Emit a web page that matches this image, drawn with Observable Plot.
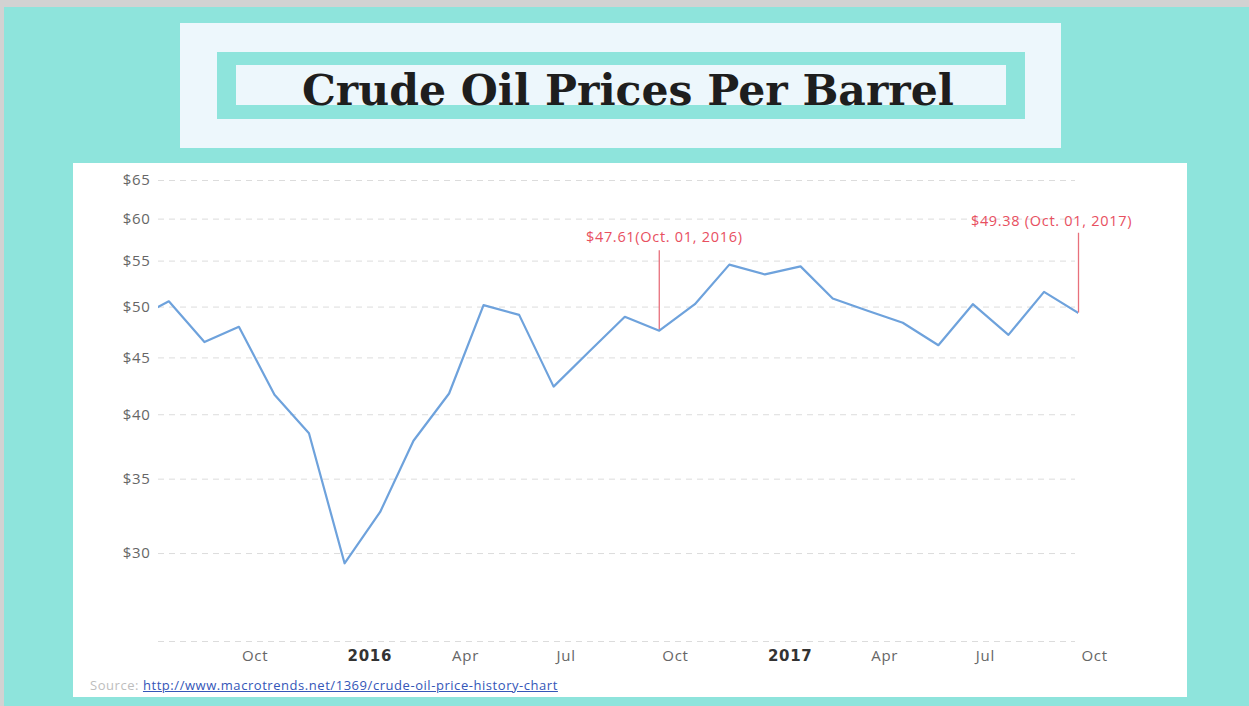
<!DOCTYPE html>
<html>
<head>
<meta charset="utf-8">
<script src="https://cdn.jsdelivr.net/npm/d3@7"></script>
<script src="https://cdn.jsdelivr.net/npm/@observablehq/plot@0.6"></script>
<style>
  html, body { margin: 0; padding: 0; }
  body { width: 1249px; height: 706px; position: relative; overflow: hidden; background: #d2d2d2; font-family: "Open Sans", sans-serif; }
  #bg { position: absolute; left: 4px; top: 7px; right: 0; bottom: 0; background: #8ee4dc; }
  .box { position: absolute; }
  #outer { left: 180px; top: 23px; width: 881px; height: 125px; background: #edf7fc; }
  #band { left: 217px; top: 52px; width: 808px; height: 67px; background: #8ee4dc; }
  #inner { left: 236px; top: 65px; width: 770px; height: 40px; background: #edf7fc; }
  #titlesvg { position: absolute; left: 0; top: 0; }
  #panel { left: 73px; top: 163px; width: 1114px; height: 534px; background: #ffffff; }
  #chart { position: absolute; left: 73px; top: 163px; }
  .oil text { letter-spacing: 0.7px; }
  #source { position: absolute; left: 90px; top: 676px; font-size: 13px; letter-spacing: 0.55px; font-family: "Open Sans", sans-serif; color: #bdbdbd; white-space: nowrap; }
  #source a { color: #3456b8; text-decoration: underline; }
</style>
</head>
<body>
<div id="bg"></div>
<div class="box" id="outer"></div>
<div class="box" id="band"></div>
<div class="box" id="inner"></div>
<svg id="titlesvg" width="1249" height="150">
  <text x="302" y="105" textLength="652" lengthAdjust="spacingAndGlyphs"
        font-family="DejaVu Serif" font-weight="bold" font-size="42" fill="#1e1e1e">Crude Oil Prices Per Barrel</text>
</svg>
<div class="box" id="panel"></div>
<div id="chart"></div>
<div id="source">Source: <a href="#">http://www.macrotrends.net/1369/crude-oil-price-history-chart</a></div>
<script>
// ---- data ----
const months = [
  "2015-07-01","2015-08-01","2015-09-01","2015-10-01","2015-11-01","2015-12-01",
  "2016-01-01","2016-02-01","2016-03-01","2016-04-01","2016-05-01","2016-06-01",
  "2016-07-01","2016-08-01","2016-09-01","2016-10-01","2016-11-01","2016-12-01",
  "2017-01-01","2017-02-01","2017-03-01","2017-04-01","2017-05-01","2017-06-01",
  "2017-07-01","2017-08-01","2017-09-01","2017-10-01"
];
const prices = [
  48.7, 50.6, 46.5, 48.0, 41.7, 38.5,
  29.4, 32.7, 37.9, 41.8, 50.2, 49.2,
  42.4, 45.6, 49.0, 47.61, 50.3, 54.6,
  53.5, 54.4, 50.9, 49.6, 48.4, 46.2,
  50.3, 47.2, 51.6, 49.38
];
const yTicks = [30, 35, 40, 45, 50, 55, 60, 65];
const yGrid = [25, 30, 35, 40, 45, 50, 55, 60, 65];
const monthTicks = ["2015-10-01","2016-04-01","2016-07-01","2016-10-01","2017-04-01","2017-07-01","2017-10-01"];
const monthLabels = ["Oct","Apr","Jul","Oct","Apr","Jul","Oct"];
const yearTicks = ["2016-01-01","2017-01-01"];
const yearLabels = ["2016","2017"];
const noteDates = ["2016-10-01","2017-10-01"];
const notePrices = [47.61, 49.38];
const noteLabels = ["$47.61(Oct. 01, 2016)","$49.38 (Oct. 01, 2017)"];

// ---- build ----
const data = months.map((m, i) => ({date: new Date(m), price: prices[i]}));
const notes = noteDates.map((d, i) => ({date: new Date(d), price: notePrices[i], label: noteLabels[i]}));
const mt = monthTicks.map(d => new Date(d));
const yt = yearTicks.map(d => new Date(d));
const ruleUp = 1.18;

const chart = Plot.plot({
  width: 1114,
  height: 534,
  marginLeft: 85,
  marginRight: 109,
  marginTop: 17,
  marginBottom: 56,
  className: "oil",
  style: {fontFamily: "Open Sans, sans-serif", background: "transparent", overflow: "visible"},
  x: {type: "utc", domain: [new Date("2015-07-23"), new Date("2017-10-01")]},
  y: {type: "log", domain: [25, 65]},
  marks: [
    Plot.ruleY(yGrid, {y: d => d, stroke: "#dcdcdc", strokeWidth: 1, strokeDasharray: "6,5", insetRight: 3}),
    Plot.axisY(yTicks, {tickSize: 0, tickPadding: 8, tickFormat: d => "$" + d, fontSize: 15, fill: "#666", label: null}),
    Plot.axisX(mt, {tickSize: 0, tickPadding: 9, tickFormat: (d, i) => monthLabels[i], textAnchor: "start", dx: 3, fontSize: 15, fill: "#666", label: null}),
    Plot.axisX(yt, {tickSize: 0, tickPadding: 9, tickFormat: (d, i) => yearLabels[i], textAnchor: "start", dx: 3, fontSize: 15, fontFamily: "DejaVu Sans, sans-serif", fontWeight: "bold", fill: "#333", label: null}),
    Plot.ruleX(notes, {x: "date", y1: "price", y2: d => d.price * ruleUp, stroke: "#e8707c", strokeWidth: 1.3}),
    Plot.line(data, {x: "date", y: "price", stroke: "#6ea2dc", strokeWidth: 2.2, clip: true}),
    Plot.text(notes.slice(0, 1), {x: "date", y: d => d.price * ruleUp, text: "label", dy: -13, dx: 5, fill: "#e8505f", fontSize: 14.5, lineAnchor: "middle"}),
    Plot.text(notes.slice(1), {x: "date", y: d => d.price * ruleUp, text: "label", dy: -12, dx: -27, fill: "#e8505f", fontSize: 14.5, lineAnchor: "middle"})
  ]
});
document.getElementById("chart").appendChild(chart);
</script>
</body>
</html>
